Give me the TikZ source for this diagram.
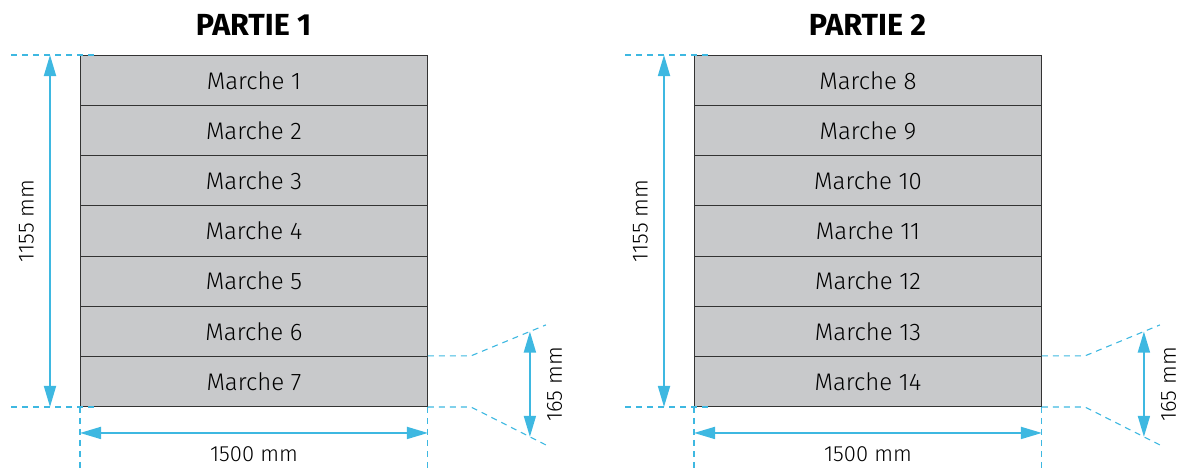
\documentclass[tikz,border=0pt]{standalone}
\usepackage{fontspec}
\setmainfont{Fira Sans Light}[BoldFont={Fira Sans Bold}]
\usetikzlibrary{calc,arrows.meta}
\definecolor{stepgray}{RGB}{200,201,203}
\definecolor{cotblue}{RGB}{62,184,225}

\begin{document}
\begin{tikzpicture}[x=1pt, y=-1pt]
\tikzset{
  marche/.style={draw=black!80, line width=0.9pt, fill=stepgray, anchor=north west,
                 minimum width=347pt, minimum height=50.15pt, inner sep=0pt,
                 font=\fontsize{24}{27}\selectfont},
  titre/.style={font=\bfseries\fontsize{30.5}{34}\selectfont, inner sep=0pt},
  cote/.style={draw=cotblue, line width=1.8pt,
               {Triangle[length=21pt,width=12pt]}-{Triangle[length=21pt,width=12pt]}},
  aide/.style={draw=cotblue, line width=1.1pt, dash pattern=on 6pt off 5pt},
  mesure/.style={font=\fontsize{22}{25}\selectfont, inner sep=0pt},
}
\useasboundingbox (0,0) rectangle (1180,469);

% les deux parties de l'escalier
\foreach \x/\n/\t in {80/0/1, 694/7/2} {
  \node[titre] (titre\t) at (\x+173.5, 25) {PARTIE \t};
  \foreach \i in {1,...,7} {
    \pgfmathtruncatemacro\k{\n+\i}
    \node[marche] (m\k) at ({\x}, {55+50.15*(\i-1)}) {Marche \k};
  }
}

% cotes
\foreach \a/\b/\t in {m1/m7/1, m8/m14/2} {
  % hauteur totale
  \draw[aide] ($(\a.north west)+(-69,0)$) -- ($(\a.north west)+(17,0)$);
  \draw[aide] ($(\b.south west)+(-69,0)$) -- ($(\b.south west)+(17,0)$);
  \coordinate (h1\t) at ($(\a.north west)+(-30,0)$);
  \coordinate (h2\t) at ($(\b.south west)+(-30,0)$);
  \draw[cote] (h1\t) -- (h2\t);
  \node[mesure, rotate=90, anchor=south] (haut\t) at ($(h1\t)!0.5!(h2\t)+(-16,-10)$) {1155 mm};
  % largeur
  \draw[aide] (\b.south west) -- ++(0,63);
  \draw[aide] (\b.south east) -- ++(0,63);
  \coordinate (l1\t) at ($(\b.south west)+(0,26)$);
  \coordinate (l2\t) at ($(\b.south east)+(0,26)$);
  \draw[cote] (l1\t) -- (l2\t);
  \node[mesure, anchor=north] (larg\t) at ($(l1\t)!0.5!(l2\t)+(0,13)$) {1500 mm};
  % hauteur de marche
  \draw[aide] (\b.north east) -- ++(43,0) -- ++(75,-31);
  \draw[aide] (\b.south east) -- ++(43,0) -- ++(75,38);
  \coordinate (c1\t) at ($(\b.north east)+(102,-24.4)$);
  \coordinate (c2\t) at ($(\b.south east)+(102,29.9)$);
  \draw[cote] (c1\t) -- (c2\t);
  \node[mesure, rotate=90, anchor=north] (marche\t) at ($(c1\t)!0.5!(c2\t)+(17,0)$) {165 mm};
}
\end{tikzpicture}
\end{document}
